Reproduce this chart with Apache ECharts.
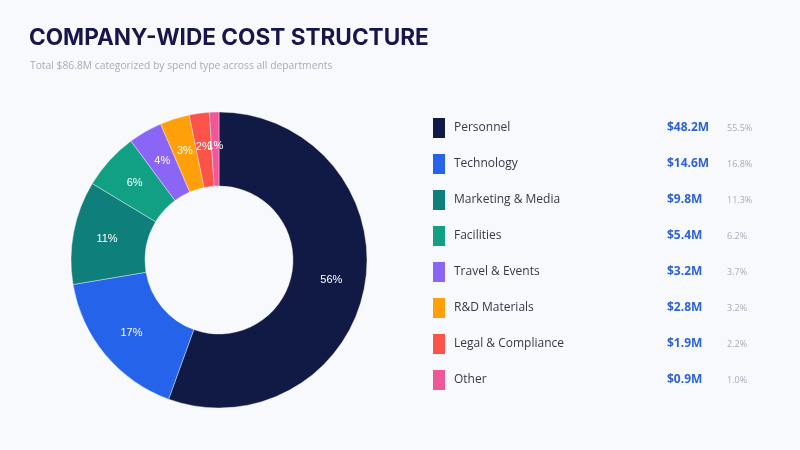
<!DOCTYPE html>
<html>
<head>
<meta charset="utf-8">
<title>Company-wide cost structure</title>
<script src="https://cdn.jsdelivr.net/npm/echarts@6/dist/echarts.min.js"></script>
<style>
  html, body { margin: 0; padding: 0; background: #f8f9fc; }
  #chart { width: 800px; height: 450px; }
</style>
</head>
<body>
<div id="chart"></div>
<script>
var categories = ['Personnel', 'Technology', 'Marketing & Media', 'Facilities',
                  'Travel & Events', 'R&D Materials', 'Legal & Compliance', 'Other'];
var costs = [48.2, 14.6, 9.8, 5.4, 3.2, 2.8, 1.9, 0.9];   // $M
var colors = ['#111a45', '#2563eb', '#0e7f7b', '#12a085',
              '#8b65f5', '#ff9f0a', '#f9534a', '#f0579a'];

var total = costs.reduce(function (a, b) { return a + b; }, 0);

var myChart = echarts.init(document.getElementById('chart'));

option = {
    backgroundColor: '#f8f9fc',
    color: colors,
    title: [
        {
            text: 'COMPANY-WIDE COST STRUCTURE',
            left: 24,
            top: 22,
            textStyle: {
                fontFamily: 'Inter',
                fontWeight: 'bold',
                fontSize: 22.6,
                color: '#16164a'
            }
        },
        {
            text: 'Total $' + total.toFixed(1) + 'M categorized by spend type across all departments',
            left: 25,
            top: 56,
            textStyle: {
                fontFamily: 'Open Sans',
                fontWeight: 'normal',
                fontSize: 10.3,
                color: '#a9abb8'
            }
        }
    ],
    legend: {
        orient: 'vertical',
        left: 426,
        top: 111,
        itemWidth: 14,
        itemHeight: 22,
        itemGap: 12,
        icon: 'rect',
        selectedMode: false,
        data: categories,
        formatter: function (name) {
            var i = categories.indexOf(name);
            var pct = (costs[i] / total * 100).toFixed(1);
            return '{n|' + name + '}{v|$' + costs[i].toFixed(1) + 'M}{p|' + pct + '%}';
        },
        textStyle: {
            rich: {
                n: {
                    width: 213,
                    padding: [0, 0, 0, 3],
                    fontFamily: 'Open Sans',
                    fontSize: 12,
                    color: '#363848'
                },
                v: {
                    width: 60,
                    fontFamily: 'Open Sans',
                    fontWeight: 'bold',
                    fontSize: 12,
                    color: '#2e63d6'
                },
                p: {
                    fontFamily: 'Open Sans',
                    fontSize: 9,
                    color: '#a9abb8'
                }
            }
        }
    },
    series: [
        {
            name: 'Cost structure',
            type: 'pie',
            center: [219, 260],
            radius: [74, 148],
            startAngle: 90,
            clockwise: true,
            avoidLabelOverlap: false,
            itemStyle: {
                borderColor: '#f8f9fc',
                borderWidth: 0.4
            },
            label: {
                show: true,
                position: 'inside',
                fontFamily: 'Liberation Sans',
                fontSize: 11,
                color: '#ffffff',
                formatter: function (p) {
                    return Math.round(p.percent) + '%';
                }
            },
            labelLine: { show: false },
            labelLayout: { hideOverlap: false },
            emphasis: { scale: false },
            data: categories.map(function (c, i) {
                return { name: c, value: costs[i] };
            })
        }
    ]
};
myChart.setOption(option);
</script>
</body>
</html>
